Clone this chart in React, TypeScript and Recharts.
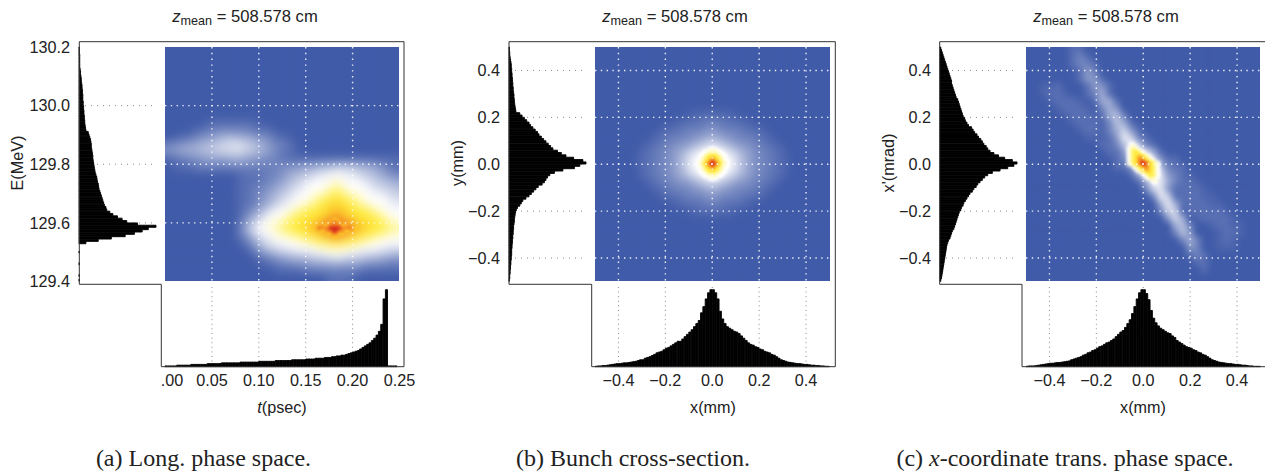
import React from "react";
import { Bar, BarChart, CartesianGrid, Scatter, ScatterChart, XAxis, YAxis } from "recharts";

const SANS = "'Liberation Sans', Arial, sans-serif";
const SERIF = "'Liberation Serif', serif";
const TEXT = "#222";
const FONT = 16.2;

// colour for each heat level (blue -> white -> yellow -> red), ":" is half a step above blue
const LEVEL_CHARS = "0123456789abcdef:";
const LEVEL_COLORS = [
  "#405BA8", "#586FB3", "#7084BE", "#8898C8", "#A0ADD4", "#B7C1DE", "#CFD6E9", "#E7EAF4",
  "#FFFFFF", "#FFFBCC", "#FFF799", "#FFF266", "#FFEB3B", "#FDC72B", "#F17F22", "#D92B1E",
  "#4C65AD",
];

// heat maps: one char per cell, top row first, "." = nothing drawn
const heatA = [
  "00000000000000000000000000000000",
  "00000000000000000000000000000000",
  "00000000000000000000000000000000",
  "00000000000000000000000000000000",
  "00000000000000000000000000000000",
  "00000000000000000000000000000000",
  "00000000000000000000000000000000",
  "00000000000000000000000000000000",
  "00000000000000000000000000000000",
  "00000000000000000000000000000000",
  "00000011111110000000000000000000",
  "00001122222211100000000000000000",
  "00112334554433211000000000000000",
  "23344556677654322100000000000000",
  "33444556666554321100000000000000",
  "01122333344332221111111111111111",
  "0111222222" + "2222223334455666554321",
  "0000000000" + "1111223455677877655432",
  "0000000000" + "1112234567888988876554",
  "0000000000" + "1122345678889b98887665",
  "0000000000" + "11234567889abcba988876",
  "0000000000" + "1123467889accdcca98887",
  "0000000000" + "12357889acccdddccca988",
  "0000000000" + "1357889bcccddeddcccb98",
  "0000000000" + "25789abccddeefeeddccba",
  "0000000000" + "247889abccddeeeddccba9",
  "0000000000" + "124678889abccdccba9888",
  "0000000000" + "0135677888899a99888877",
  "0000000000" + "0012345566778887766554",
  "0000000000" + "0001122333444544433322",
  "0000000000" + "0000011112222222211111",
  "0000000000" + "0000000000001111000000",
];

const heatACore = [
  "................",
  ".......dd.......",
  "......deed......",
  "....ddeeeedd....",
  "ddeeeeffffeeeedd",
  "...ddeeffeedd...",
  ".....ddeedd.....",
  ".......dd.......",
  "................",
];

const heatB = [
  "00000000000000000000000000000000",
  "00000000000000000000000000000000",
  "00000000000000000000000000000000",
  "00000000000000000000000000000000",
  "00000000000000000000000000000000",
  "00000000000000000000000000000000",
  "00000000000000000000000000000000",
  "00000000000000000000000000000000",
  "00000000000000000000000000000000",
  "00000000000001111110000000000000",
  "00000000000111122111100000000000",
  "00000000011122233222111000000000",
  "00000000112223344332221100000000",
  "00000001122334577543322110000000",
  "00000011223457888875432211000000",
  "00000011223468888886432211000000",
  "00000011223468888886432211000000",
  "00000011223457888875432211000000",
  "00000001122334577543322110000000",
  "00000000112223344332221100000000",
  "00000000011122233222111000000000",
  "00000000000111122111100000000000",
  "00000000000001111110000000000000",
  "00000000000000000000000000000000",
  "00000000000000000000000000000000",
  "00000000000000000000000000000000",
  "00000000000000000000000000000000",
  "00000000000000000000000000000000",
  "00000000000000000000000000000000",
  "00000000000000000000000000000000",
  "00000000000000000000000000000000",
  "00000000000000000000000000000000",
];

const heatBCore = [
  "................",
  "......8888......",
  "....88999988....",
  "...8899aa9988...",
  "..889acccca988..",
  "..89accddcca98..",
  ".889acdeedca988.",
  ".89acdeffedca98.",
  ".89acdeffedca98.",
  ".889acdeedca988.",
  "..89accddcca98..",
  "..889acccca988..",
  "...8899aa9988...",
  "....88999988....",
  "......8888......",
  "................",
];

const heatC = [
  "00000011000000000000000000000000",
  "00000012100000000000000000000000",
  "00000012210000000000000000000000",
  "00000001320000000000000000000000",
  "00000001331000000000000000000000",
  "00::1000133100000000000000000000",
  "00:11:00124100000000000000000000",
  "000:111:014410000000000000000000",
  "0000:111:02430000000000000000000",
  "00000:111:1452000000000000000000",
  "000000:111:254100000000000000000",
  "0000000:11:246310000000000000000",
  "00000000:::137621000000000000000",
  "00000000001125862100000000000000",
  "00000000000113787410000000000000",
  "00000000000012588731100000000000",
  "00000000000011378852110000000000",
  "0000000000000014887321:000000000",
  "00000000000000014774211:00000000",
  "000000000000000026731111:0000000",
  "000000000000000002761111::000000",
  "0000000000000000004741111::00000",
  "000000000000000000266:11111:0000",
  "00000000000000000003640:1111:000",
  "0000000000000000000045200:11::00",
  "00000000000000000000253000:11:00",
  "00000000000000000000024200:1:000",
  "00000000000000000000003200:::000",
  "00000000000000000000001210000000",
  "00000000000000000000000110000000",
  "00000000000000000000000010000000",
  "00000000000000000000000000000000",
];

const heatCCore = [
  "....................",
  "....................",
  "....................",
  "....................",
  "....88..............",
  "....899.............",
  "...89a98............",
  "...89bcb98..........",
  "...89bccb98.........",
  "...89bccdcb98.......",
  "...89bcdedcb98......",
  "...89bcdeedcb98.....",
  "...89bcdeffedcb98...",
  "...89bcdeffedcb98...",
  ".....89bcdeedcb98...",
  "......89bcdedcb98...",
  ".......89bcddcb98...",
  ".........89bccb98...",
  "..........89bcb98...",
  "...........89a98....",
  ".............899....",
  "..............88....",
  "....................",
  "....................",
  "....................",
  "....................",
];

// histograms: 100 bins each, peak = 100
const energyCounts = [
  0.5, 0.5, 0.5, 1, 1, 1, 1, 1, 1, 1.5, 2, 2, 2.5, 3, 3, 3.5, 4, 4, 4.5, 4.5,
  5, 5, 5, 5.5, 5.5, 6, 6, 6.5, 6.5, 7, 7, 7.5, 7.5, 8, 8.5, 9, 12, 13, 14, 15,
  15.5, 16, 16, 16.5, 17, 17.5, 18, 18, 18.5, 19, 19.5, 20, 20.5, 21, 22, 23, 23.5, 24, 25, 25.5,
  26, 27, 28, 29, 30, 31, 32, 33, 35, 36, 40, 44, 50, 56, 62, 76, 100, 90, 82, 72,
  60, 42, 25, 9, 0, 0, 0, 0.5, 0, 0, 0, 0, 0.5, 0, 0, 0, 0, 0.5, 0, 0.5,
];
const timeCounts = [
  1, 1, 1, 1, 1, 2, 2, 2, 2, 2, 2, 3, 3, 3, 3, 3, 3, 3, 4, 4,
  4, 4, 4, 4, 5, 5, 5, 5, 5, 5, 5, 5, 6, 6, 6, 6, 6, 6, 6, 6,
  7, 7, 7, 7, 7, 7, 7, 8, 8, 8, 8, 8, 8, 8, 9, 9, 9, 9, 9, 9,
  10, 10, 10, 10, 11, 11, 11, 11, 12, 12, 12, 13, 13, 14, 14, 15, 15, 16, 17, 18,
  19, 20, 21, 23, 25, 27, 29, 31, 34, 37, 41, 46, 55, 88, 100, 1, 1, 1, 1, 0,
];
const yCounts = [
  0.5, 0.5, 1, 1, 1.5, 2, 2.5, 3, 3, 3.5, 3.5, 4, 4, 4.5, 4.5, 5, 5, 5.5, 5.5, 6,
  6.5, 6.5, 7, 7, 7.5, 8, 8.5, 9, 14, 17, 20, 23, 26, 28, 31, 34, 37, 39, 42, 45,
  48, 51, 54, 57, 63, 68, 74, 84, 96, 100, 92, 85, 70, 59, 53, 50, 48, 46, 43, 38,
  35, 32, 29, 26, 22, 18, 16, 14, 11, 9.5, 8.5, 8, 7.5, 7, 7, 6.5, 6, 6, 5.5, 5.5,
  5, 5, 4.5, 4.5, 4, 4, 3.5, 3.5, 3.5, 3, 3, 2.5, 2.5, 2, 2, 1.5, 1.5, 1, 1, 0.5,
];
const xCountsB = [
  0.5, 1, 1, 1.5, 1.5, 2, 2.5, 3, 3.5, 4, 4, 4.5, 5, 5, 5.5, 6, 6.5, 7, 8, 9,
  9, 11, 12, 13, 14.5, 16, 18, 19, 20, 22, 24, 25, 27, 29, 31, 33, 33, 36, 39, 42,
  45, 48, 52, 56, 60, 70, 78, 88, 96, 100, 100, 96, 88, 72, 62, 56, 52, 50, 48, 46,
  45, 43, 40, 37, 34, 31, 29, 28, 26, 25, 23, 22, 20, 19, 18, 16, 15, 13, 11, 9,
  8, 7, 6, 5.5, 5, 4.5, 4, 4, 3.5, 3, 3, 2.5, 2, 2, 1.5, 1.5, 1, 1, 0.5, 0.5,
];
const xpCounts = [
  1, 2, 3, 4, 5, 6, 7, 8, 9, 10, 11, 12, 13, 14, 15, 15, 16, 17, 18, 19,
  20, 21, 23, 24, 25, 26, 27, 28, 29, 30, 32, 33, 35, 37, 41, 43, 45, 48, 50, 53,
  55, 57, 60, 62, 65, 70, 76, 84, 94, 100, 96, 88, 78, 68, 62, 58, 55, 52, 49, 47,
  44, 42, 39, 37, 35, 33, 31, 30, 28, 27, 25, 24, 23, 22, 21, 20, 19, 18, 16, 15,
  14, 13, 11, 10, 9, 8.5, 8, 7.5, 7, 6.5, 6, 5.5, 5, 4.5, 4, 3.5, 3, 2.5, 2, 1,
];
const xCountsC = [
  0.5, 1, 1, 1, 1.5, 2, 2.5, 3, 3.5, 4, 4.5, 4.5, 5, 5.5, 5.5, 6, 6.5, 7, 7.5, 9,
  10, 11, 12, 13, 15, 16, 18, 19, 21, 22, 24, 26, 27, 29, 31, 32, 34, 36, 39, 42,
  45, 47, 51, 56, 61, 69, 78, 88, 96, 100, 100, 95, 87, 73, 63, 57, 53, 50, 48, 46,
  44, 43, 40, 38, 34, 32, 30, 28, 26, 25, 24, 22, 21, 19, 18, 16, 15, 13, 11, 9,
  8, 7, 6, 5.5, 5, 4.5, 4, 4, 3.5, 3, 3, 2.5, 2, 2, 1.5, 1, 1, 0.5, 0.5, 0.5,
];

const energyTicks = [129.4, 129.6, 129.8, 130.0, 130.2];
const energyGrid = [129.6, 129.8, 130.0];
const timeTicks = [0, 0.05, 0.1, 0.15, 0.2, 0.25];
const timeGrid = [0.05, 0.1, 0.15, 0.2];
const mmTicks = [-0.4, -0.2, 0, 0.2, 0.4];

const HEAT_W = 234.5;

function toBins(counts: number[], start: number, end: number) {
  const w = (end - start) / counts.length;
  return counts.map((n, i) => ({ pos: start + (i + 0.5) * w, n }));
}

function minus(text: string) {
  return text.replace("-", "\u2212");
}

type Range = [number, number];

function HeatLayer(props: {
  rows: string[];
  x: Range;
  y: Range; // y[0] = top of the grid
  width: number;
  height: number;
  left: number;
  top: number;
  blur: number;
  pad: number;
}) {
  const { rows, x, y, width, height, left, top, blur, pad } = props;
  const nRows = rows.length;
  const nCols = rows[0].length;
  const dx = (x[1] - x[0]) / nCols;
  const dy = (y[1] - y[0]) / nRows;
  const cw = width / nCols;
  const ch = height / nRows;
  const cells: { x: number; y: number; level: number }[] = [];
  for (let r = -pad; r < nRows + pad; r++) {
    for (let c = -pad; c < nCols + pad; c++) {
      const ch0 = rows[Math.min(nRows - 1, Math.max(0, r))][Math.min(nCols - 1, Math.max(0, c))];
      if (ch0 === "." || ch0 === undefined) continue;
      cells.push({ x: x[0] + (c + 0.5) * dx, y: y[0] + (r + 0.5) * dy, level: LEVEL_CHARS.indexOf(ch0) });
    }
  }
  const renderCell = (p: any) => (
    <rect
      x={p.cx - cw / 2 - 0.3}
      y={p.cy - ch / 2 - 0.3}
      width={cw + 0.6}
      height={ch + 0.6}
      fill={LEVEL_COLORS[p.payload.level]}
    />
  );
  const xDomain: Range = [x[0] - pad * dx, x[1] + pad * dx];
  const yLow = Math.min(y[0] - pad * dy, y[1] + pad * dy);
  const yHigh = Math.max(y[0] - pad * dy, y[1] + pad * dy);
  return (
    <div style={{ position: "absolute", left: left - pad * cw, top: top - pad * ch, filter: `blur(${blur}px)` }}>
      <ScatterChart
        width={width + 2 * pad * cw}
        height={height + 2 * pad * ch}
        margin={{ top: 0, right: 0, bottom: 0, left: 0 }}
      >
        <XAxis type="number" dataKey="x" domain={xDomain} hide allowDataOverflow />
        <YAxis type="number" dataKey="y" domain={[yLow, yHigh]} hide width={0} allowDataOverflow />
        <Scatter data={cells} shape={renderCell} isAnimationActive={false} />
      </ScatterChart>
    </div>
  );
}

type PanelProps = {
  left: number;
  heatLeft: number;
  frameRight: number;
  stepX: number;
  xRange: Range;
  yRange: Range;
  xTicks: number[];
  yTicks: number[];
  xGrid: number[];
  yGrid: number[];
  xDigits: number;
  heat: string[];
  blur: number;
  core: { rows: string[]; x: Range; y: Range };
  sideCounts: number[];
  bottomCounts: number[];
};

function Panel(p: PanelProps) {
  const xFmt = (v: number) => minus(v.toFixed(p.xDigits));
  const yFmt = (v: number) => minus(v.toFixed(1));
  const top = 46.5;
  const xSpan = p.xRange[1] - p.xRange[0];
  const ySpan = p.yRange[1] - p.yRange[0];
  const sideBins = toBins(p.sideCounts, p.yRange[1], p.yRange[0]);
  const bottomBins = toBins(p.bottomCounts, p.xRange[0], p.xRange[1]);
  const bottomTop = 287;
  const renderXTick = (t: any) => {
    const label = t.payload.value === 0 && p.xDigits === 2 ? ".00" : xFmt(t.payload.value);
    const shift = label === ".00" ? 7 : 0;
    return (
      <text x={t.x + shift} y={99} textAnchor="middle" fontSize={FONT} fontFamily={SANS} fill={TEXT}>
        {label}
      </text>
    );
  };
  // only there so the overlay chart has a domain to draw its grid in
  const gridAnchors = [
    { x: p.xRange[0], y: p.yRange[0] },
    { x: p.xRange[1], y: p.yRange[1] },
  ];
  return (
    <>
      <div style={{ position: "absolute", left: p.left - 60, top: top - 8 }}>
        <BarChart
          layout="vertical"
          width={60 + 78}
          height={HEAT_W + 16}
          data={sideBins}
          margin={{ top: 8, right: 1, bottom: 8, left: 0 }}
        >
          <CartesianGrid
            vertical={false}
            horizontalValues={p.yGrid}
            stroke="#8a8a8a"
            strokeWidth={1}
            strokeDasharray="1 5"
          />
          <XAxis type="number" domain={[0, 100]} hide />
          <YAxis
            type="number"
            dataKey="pos"
            reversed
            domain={p.yRange}
            ticks={p.yTicks}
            interval={0}
            width={60}
            axisLine={false}
            tickLine={false}
            tickMargin={3}
            tickFormatter={yFmt}
            tick={{ fontSize: FONT, fontFamily: SANS, fill: TEXT }}
          />
          <Bar dataKey="n" fill="#000" stroke="#000" strokeWidth={0.9} barSize={HEAT_W / p.sideCounts.length} isAnimationActive={false} />
        </BarChart>
      </div>

      <div style={{ position: "absolute", left: p.heatLeft - 30, top: bottomTop }}>
        <BarChart
          width={HEAT_W + 60}
          height={366.7 - bottomTop + 30}
          data={bottomBins}
          margin={{ top: 0, right: 30, bottom: 0, left: 30 }}
        >
          <CartesianGrid
            horizontal={false}
            verticalValues={p.xGrid}
            stroke="#8a8a8a"
            strokeWidth={1}
            strokeDasharray="1 3.6"
          />
          <XAxis
            type="number"
            dataKey="pos"
            domain={p.xRange}
            ticks={p.xTicks}
            interval={0}
            height={30}
            axisLine={false}
            tickLine={false}
            tick={renderXTick}
          />
          <YAxis type="number" domain={[0, 103.5]} hide width={0} />
          <Bar dataKey="n" fill="#000" stroke="#000" strokeWidth={0.9} barSize={HEAT_W / p.bottomCounts.length} isAnimationActive={false} />
        </BarChart>
      </div>

      <div
        style={{
          position: "absolute",
          left: p.heatLeft,
          top,
          width: HEAT_W,
          height: HEAT_W,
          overflow: "hidden",
          background: LEVEL_COLORS[0],
        }}
      >
        <HeatLayer
          rows={p.heat}
          x={p.xRange}
          y={[p.yRange[1], p.yRange[0]]}
          width={HEAT_W}
          height={HEAT_W}
          left={0}
          top={0}
          blur={p.blur}
          pad={4}
        />
        <HeatLayer
          rows={p.core.rows}
          x={p.core.x}
          y={p.core.y}
          width={((p.core.x[1] - p.core.x[0]) / xSpan) * HEAT_W}
          height={((p.core.y[0] - p.core.y[1]) / ySpan) * HEAT_W}
          left={((p.core.x[0] - p.xRange[0]) / xSpan) * HEAT_W}
          top={((p.yRange[1] - p.core.y[0]) / ySpan) * HEAT_W}
          blur={1.5}
          pad={0}
        />
        <div style={{ position: "absolute", left: 0, top: 0 }}>
          <ScatterChart width={HEAT_W} height={HEAT_W} margin={{ top: 0, right: 0, bottom: 0, left: 0 }}>
            <CartesianGrid
              horizontalValues={p.yGrid}
              verticalValues={p.xGrid}
              stroke="#fff"
              strokeOpacity={0.9}
              strokeWidth={1.4}
              strokeDasharray="1.4 4.4"
            />
            <XAxis type="number" dataKey="x" domain={p.xRange} hide />
            <YAxis type="number" dataKey="y" domain={p.yRange} hide width={0} />
            <Scatter data={gridAnchors} shape={() => <g />} isAnimationActive={false} />
          </ScatterChart>
        </div>
      </div>

      <svg style={{ position: "absolute", left: 0, top: 0, pointerEvents: "none" }} width={1265} height={473}>
        <path
          d={`M${p.left} 284.3V41.7H${p.frameRight}V366.7H${p.stepX}V284.3Z`}
          fill="none"
          stroke="#333"
          strokeWidth={1}
        />
      </svg>
    </>
  );
}

function Note(props: {
  x: number;
  y: number;
  children: React.ReactNode;
  size?: number;
  family?: string;
  rotate?: boolean;
}) {
  return (
    <div
      style={{
        position: "absolute",
        left: props.x,
        top: props.y,
        transform: `translate(-50%, -50%)${props.rotate ? " rotate(-90deg)" : ""}`,
        fontSize: props.size ?? FONT,
        fontFamily: props.family ?? SANS,
        color: TEXT,
        whiteSpace: "nowrap",
        lineHeight: 1,
      }}
    >
      {props.children}
    </div>
  );
}

function Title({ x }: { x: number }) {
  return (
    <Note x={x} y={17} size={16.6}>
      <i>z</i>
      <span style={{ fontSize: 12.6, position: "relative", top: 3 }}>mean</span> = 508.578 cm
    </Note>
  );
}

export default function App() {
  return (
    <div
      style={{
        position: "absolute",
        left: 0,
        top: 0,
        width: 1265,
        height: 473,
        overflow: "hidden",
        background: "#fff",
      }}
    >
      <Panel
        left={79.3}
        heatLeft={164.8}
        frameRight={404}
        stepX={161.3}
        xRange={[0, 0.25]}
        yRange={[129.4, 130.2]}
        xTicks={timeTicks}
        yTicks={energyTicks}
        xGrid={timeGrid}
        yGrid={energyGrid}
        xDigits={2}
        heat={heatA}
        blur={5.5}
        core={{ rows: heatACore, x: [0.156, 0.207], y: [129.626, 129.536] }}
        sideCounts={energyCounts}
        bottomCounts={timeCounts}
      />
      <Panel
        left={509}
        heatLeft={595.4}
        frameRight={835.3}
        stepX={591.7}
        xRange={[-0.5, 0.5]}
        yRange={[-0.5, 0.5]}
        xTicks={mmTicks}
        yTicks={mmTicks}
        xGrid={mmTicks}
        yGrid={mmTicks}
        xDigits={1}
        heat={heatB}
        blur={5.5}
        core={{ rows: heatBCore, x: [-0.08, 0.08], y: [0.08, -0.08] }}
        sideCounts={yCounts}
        bottomCounts={xCountsB}
      />
      <Panel
        left={939.7}
        heatLeft={1025.8}
        frameRight={1266}
        stepX={1022}
        xRange={[-0.5, 0.5]}
        yRange={[-0.5, 0.5]}
        xTicks={mmTicks}
        yTicks={mmTicks}
        xGrid={mmTicks}
        yGrid={mmTicks}
        xDigits={1}
        heat={heatC}
        blur={3.2}
        core={{ rows: heatCCore, x: [-0.1, 0.1], y: [0.13, -0.13] }}
        sideCounts={xpCounts}
        bottomCounts={xCountsC}
      />

      <Title x={245} />
      <Title x={675} />
      <Title x={1106} />

      <Note x={282} y={407}>
        <i>t</i>(psec)
      </Note>
      <Note x={713} y={407}>x(mm)</Note>
      <Note x={1143} y={407}>x(mm)</Note>

      <Note x={17} y={163} rotate>E(MeV)</Note>
      <Note x={457} y={163} rotate>y(mm)</Note>
      <Note x={888} y={163} rotate>x'(mrad)</Note>

      <Note x={203.5} y={458} size={24} family={SERIF}>(a) Long. phase space.</Note>
      <Note x={633} y={458} size={24} family={SERIF}>(b) Bunch cross-section.</Note>
      <Note x={1065} y={458} size={24} family={SERIF}>
        (c) <i>x</i>-coordinate trans. phase space.
      </Note>
    </div>
  );
}
